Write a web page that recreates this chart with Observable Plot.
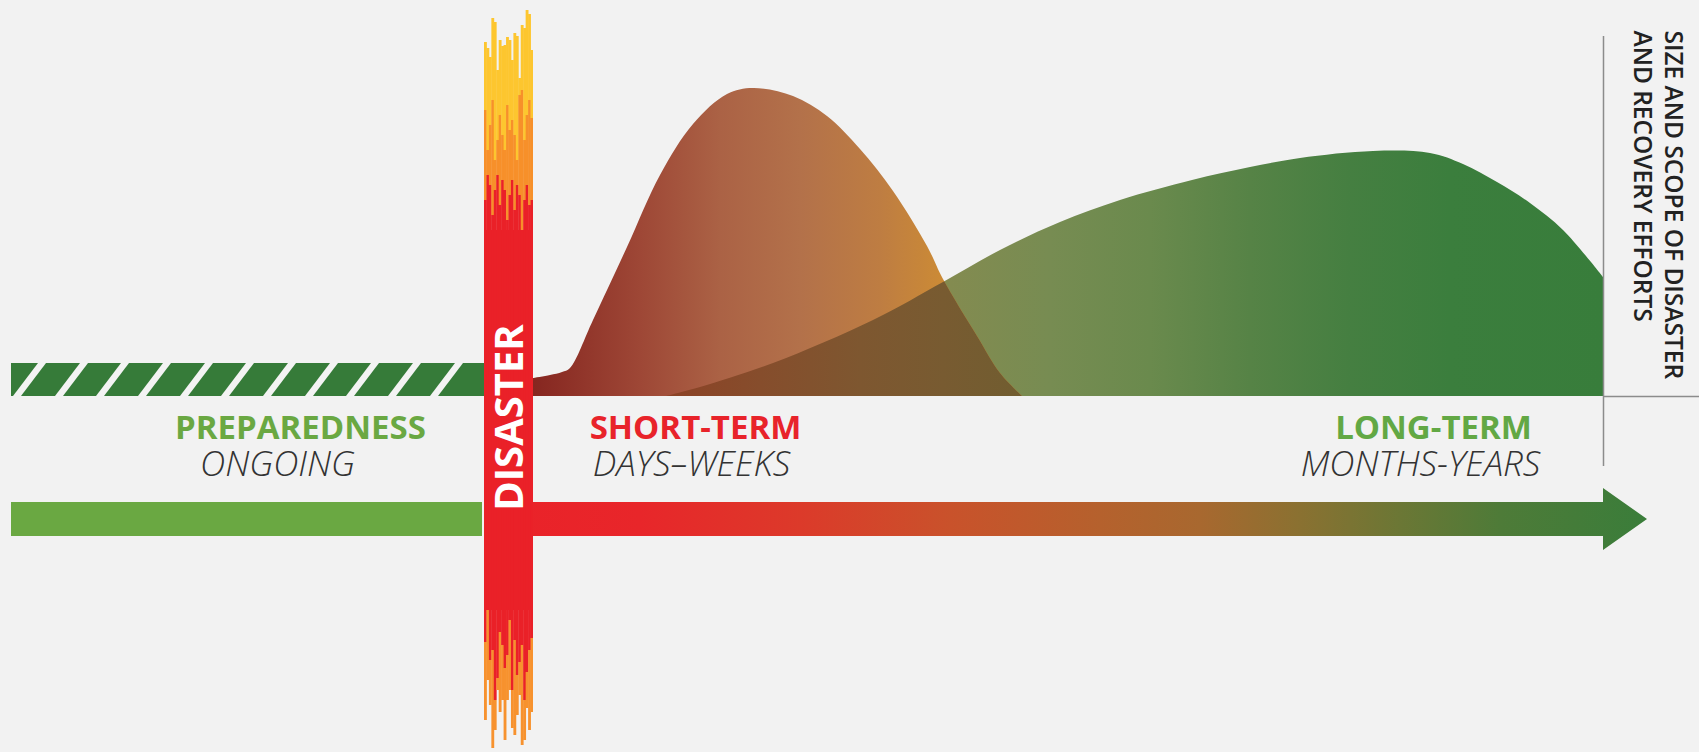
<!DOCTYPE html>
<html><head><meta charset="utf-8">
<script src="https://cdn.jsdelivr.net/npm/d3@7"></script>
<script src="https://cdn.jsdelivr.net/npm/@observablehq/plot@0.6"></script>
<style>
html,body{margin:0;padding:0;background:#F2F2F2;}
#chart svg{display:block;}
</style></head>
<body><div id="chart"></div>
<script>
// ---- DATA (x = timeline position, y = size of effort; 0 = baseline) ----
const shortTermX = [533, 550, 562, 570, 593, 627, 660, 693, 727, 753, 793, 827, 860, 893, 927, 943, 977, 1000, 1022];
const shortTermY = [18, 21, 24, 28, 76, 149, 221, 272, 302, 308, 300, 280, 247, 205, 150, 117, 60, 23, 0];
const longTermX = [666, 700, 773, 873, 943, 1000, 1060, 1120, 1192, 1250, 1300, 1373, 1430, 1463, 1497, 1530, 1563, 1603];
const longTermY = [0, 9, 33, 76, 114, 146, 174, 196, 216, 229, 238, 245, 243, 232, 214, 193, 166, 119];

// timeline extents
const prepStart = 11, disasterStart = 484, disasterEnd = 533, arrowEnd = 1603, arrowTip = 1647;
// band levels (effort units)
const hatchTop = 33, barTop = -106, barBottom = -140, headTop = -92, headBottom = -154;
// hatch stripes (bottom-left x of each white stripe)
const hatchStripes = [13, 55, 96, 138, 180, 221, 263, 305, 346, 388, 430];
const stripeWidth = 8, stripeLean = 25;

// disaster flame streaks (20 columns)
const flameYellowTop   = [354, 348, 339, 378, 374, 326, 356, 350, 351, 359, 356, 336, 363, 360, 318, 371, 368, 386, 382, 346];
const flameOrangeTop   = [286, 246, 271, 296, 236, 256, 281, 261, 246, 291, 266, 276, 261, 236, 301, 306, 256, 281, 296, 278];
const flameRedTop      = [196, 221, 211, 181, 206, 221, 191, 216, 206, 176, 201, 216, 186, 211, 201, 166, 196, 211, 191, 196];
const flameRedBottom   = [-246, -214, -264, -254, -304, -282, -236, -249, -272, -259, -224, -294, -244, -279, -266, -249, -304, -276, -254, -242];
const flameOrangeBottom= [-324, -284, -309, -352, -334, -294, -316, -304, -344, -304, -294, -332, -339, -319, -299, -349, -344, -312, -334, -316];

// labels
const phaseNames = ["PREPAREDNESS", "SHORT-TERM", "LONG-TERM"];
const phaseNameX = [300, 695, 1433];
const phaseColors = ["#6AA842", "#E8232A", "#62A844"];
const phaseSpans = ["ONGOING", "DAYS–WEEKS", "MONTHS-YEARS"];
const phaseSpanX = [277, 691, 1420];
const axisLabel = ["SIZE AND SCOPE OF DISASTER", "AND RECOVERY EFFORTS"];
const axisLabelX = [1672, 1641];

// ---- build tables ----
const shortTerm = shortTermX.map((x, i) => ({x, y: shortTermY[i]}));
const longTerm = longTermX.map((x, i) => ({x, y: longTermY[i]}));
const stripes = hatchStripes.flatMap((s, id) => [
  {id, y: 0, x1: s, x2: s + stripeWidth},
  {id, y: hatchTop, x1: s + stripeLean, x2: s + stripeLean + stripeWidth}
]);
const arrow = [
  {x: disasterStart + 20, y1: barTop, y2: barBottom},
  {x: arrowEnd, y1: barTop, y2: barBottom},
  {x: arrowEnd, y1: headTop, y2: headBottom},
  {x: arrowTip, y1: (headTop + headBottom) / 2, y2: (headTop + headBottom) / 2}
];
const colW = (disasterEnd - disasterStart) / flameYellowTop.length;
const flames = [];
flameYellowTop.forEach((t, i) => {
  const x1 = disasterStart + i * colW, x2 = Math.min(disasterEnd, x1 + colW + 0.4);
  flames.push({x1, x2, y1: flameOrangeTop[i], y2: t, c: "#FDC62F"});
  flames.push({x1, x2, y1: flameRedTop[i], y2: flameOrangeTop[i], c: "#F7902A"});
  flames.push({x1, x2, y1: flameRedBottom[i], y2: flameRedTop[i], c: "#EA2128"});
  flames.push({x1, x2, y1: flameOrangeBottom[i], y2: flameRedBottom[i], c: "#F7922E"});
});
const names = phaseNames.map((t, i) => ({t, x: phaseNameX[i], c: phaseColors[i]}));
const spans = phaseSpans.map((t, i) => ({t, x: phaseSpanX[i]}));
const axisTexts = axisLabel.map((t, i) => ({t, x: axisLabelX[i]}));

const svg = Plot.plot({
  width: 1699, height: 752, margin: 0,
  x: {domain: [0, 1699], range: [0, 1699], axis: null},
  y: {domain: [-356, 396], range: [752, 0], axis: null},
  style: {background: "#F2F2F2", fontFamily: "'Open Sans', sans-serif"},
  marks: [
    // preparedness hatched band
    Plot.rect([0], {x1: prepStart, x2: disasterStart + 5, y1: 0, y2: hatchTop, fill: "#367B39"}),
    Plot.areaX(stripes, {y: "y", x1: "x1", x2: "x2", z: "id", fill: "#F3F3F3", curve: "linear"}),
    // bottom timeline
    Plot.rect([0], {x1: prepStart, x2: disasterStart - 2, y1: barBottom, y2: barTop, fill: "#6AA842"}),
    Plot.areaY(arrow, {x: "x", y1: "y1", y2: "y2", fill: "url(#gArrow)", curve: "linear"}),
    // curves
    Plot.areaY(longTerm, {x: "x", y: "y", fill: "url(#gGreen)", curve: "catmull-rom"}),
    Plot.areaY(shortTerm, {x: "x", y: "y", fill: "url(#gBrown)", curve: "catmull-rom"}),
    Plot.areaY(shortTerm, {x: "x", y: "y", fill: "url(#gOverlap)", curve: "catmull-rom"}),
    // disaster
    Plot.rect([0], {x1: disasterStart, x2: disasterEnd, y1: d3.max(flameRedBottom), y2: d3.min(flameRedTop), fill: "#EA2128"}),
    Plot.rect(flames, {x1: "x1", x2: "x2", y1: "y1", y2: "y2", fill: "c"}),
    Plot.text(["DISASTER"], {x: (disasterStart + disasterEnd) / 2 + 1, y: -21, rotate: -90, fill: "white",
      fontSize: 40, fontWeight: 700, textAnchor: "middle", lineAnchor: "middle"}),
    // axis
    Plot.ruleX([arrowEnd], {y1: 360, y2: -70, stroke: "#8C8C8C", strokeWidth: 1.5}),
    Plot.ruleY([0], {x1: arrowEnd, x2: 1699, stroke: "#8C8C8C", strokeWidth: 1.5}),
    Plot.text(axisTexts, {x: "x", y: 366, text: "t", rotate: 90, textAnchor: "start", lineAnchor: "middle",
      fontSize: 24.5, fontWeight: 600, fill: "#222"}),
    // phase labels
    Plot.text(names, {x: "x", y: -42, text: "t", fill: "c", fontSize: 33, fontWeight: 700,
      textAnchor: "middle", lineAnchor: "bottom"}),
    Plot.text(spans, {x: "x", y: -79, text: "t", fill: "#333", fontSize: 35, fontWeight: 300, fontStyle: "italic",
      textAnchor: "middle", lineAnchor: "bottom"})
  ]
});

// gradients, positioned with the x scale
const sx = svg.scale("x");
const NS = "http://www.w3.org/2000/svg";
const defs = document.createElementNS(NS, "defs");
function grad(id, stops) {
  const g = document.createElementNS(NS, "linearGradient");
  const a = sx.apply(stops[0][0]), b = sx.apply(stops[stops.length - 1][0]);
  g.setAttribute("id", id); g.setAttribute("gradientUnits", "userSpaceOnUse");
  g.setAttribute("x1", a); g.setAttribute("x2", b); g.setAttribute("y1", 0); g.setAttribute("y2", 0);
  for (const [v, c] of stops) {
    const s = document.createElementNS(NS, "stop");
    s.setAttribute("offset", (sx.apply(v) - a) / (b - a));
    s.setAttribute("stop-color", c);
    g.appendChild(s);
  }
  defs.appendChild(g);
}
grad("gBrown", [[533, "#862620"], [640, "#9E4736"], [720, "#AB6245"], [800, "#B3714A"], [880, "#BE7D42"], [940, "#CB8A36"], [1022, "#CE8A33"]]);
grad("gOverlap", [[666, "#8C4226"], [760, "#864D2C"], [860, "#7E5730"], [943, "#785B31"], [1022, "#715D30"]]);
grad("gGreen", [[666, "#8A7A48"], [943, "#848B50"], [1050, "#778C52"], [1150, "#6A8A4D"], [1250, "#568346"], [1350, "#457F41"], [1450, "#3B7E3D"], [1603, "#387D3B"]]);
grad("gArrow", [[505, "#EA2229"], [640, "#E8262A"], [800, "#DC3A2A"], [950, "#C9522B"], [1100, "#B5612D"], [1200, "#A8682F"], [1300, "#8A7131"], [1400, "#6B7735"], [1500, "#4E7B38"], [1647, "#3A7D3A"]]);
svg.insertBefore(defs, svg.firstChild);
// clip overlap to the long-term area
const greenG = svg.querySelector('[fill="url(#gGreen)"]');
const overlapG = svg.querySelector('[fill="url(#gOverlap)"]');
if (greenG && overlapG) {
  const greenPath = greenG.tagName === "path" ? greenG : greenG.querySelector("path");
  const cp = document.createElementNS(NS, "clipPath");
  cp.setAttribute("id", "clipGreen");
  const p = document.createElementNS(NS, "path");
  p.setAttribute("d", greenPath.getAttribute("d"));
  const tr = greenPath.getAttribute("transform");
  if (tr) p.setAttribute("transform", tr);
  cp.appendChild(p);
  defs.appendChild(cp);
  overlapG.setAttribute("clip-path", "url(#clipGreen)");
}
document.getElementById("chart").appendChild(svg);
</script>
</body></html>
